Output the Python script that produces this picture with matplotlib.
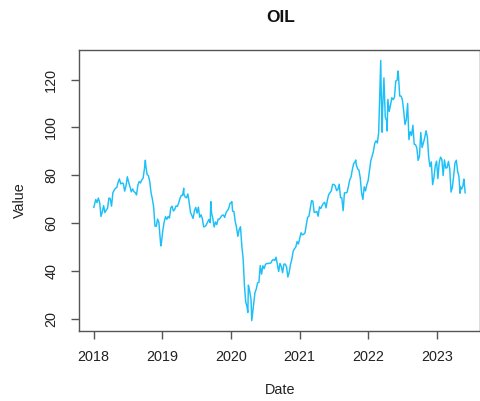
import numpy as np
import pandas as pd
import matplotlib
matplotlib.use("Agg")
import matplotlib.pyplot as plt
import matplotlib.dates as mdates

# weekly (Friday) oil price readings, one list per year
oil_2018 = [67.6, 69.9, 68.6, 70.5, 68.6, 62.8, 64.8, 67.3, 64.4, 65.5, 66.2, 70.5, 70.3,
            67.1, 72.6, 73.8, 74.6, 74.9, 77.1, 78.5, 76.4, 76.8, 76.5, 73.4, 75.6, 79.4,
            77.1, 75.3, 73.1, 74.3, 73.2, 72.8, 71.8, 75.8, 77.4, 76.8, 78.1, 78.8, 82.7,
            84.2, 80.4, 79.8, 77.6, 72.8, 70.2, 66.8, 58.8, 58.7, 61.7, 60.3, 53.8, 52.2]
oil_2019 = [57.1, 60.5, 62.7, 61.6, 62.8, 62.1, 66.3, 67.1, 65.1, 65.7, 67.2, 67.0, 68.4,
            70.3, 71.6, 71.6, 72.2, 70.9, 70.6, 72.2, 68.7, 64.5, 63.3, 62.0, 65.2, 66.6,
            64.2, 66.7, 62.5, 63.5, 61.9, 58.5, 58.6, 59.3, 60.4, 61.5, 60.2, 64.3, 61.9,
            58.4, 60.5, 59.4, 61.7, 61.7, 62.5, 63.3, 63.4, 62.4, 64.4, 65.2, 66.1, 68.2]
oil_2020 = [68.6, 65.0, 64.9, 60.7, 58.2, 54.5, 57.3, 58.5, 50.5, 45.3, 33.9, 27.0, 25.0,
            34.1, 31.5, 28.1, 21.4, 26.4, 31.0, 32.5, 35.1, 35.3, 42.3, 38.7, 42.2, 41.0,
            42.8, 43.2, 43.1, 43.3, 43.3, 44.4, 44.8, 44.4, 45.8, 42.7, 39.8, 43.2, 41.9,
            39.3, 42.9, 42.9, 41.8, 37.5, 39.5, 42.8, 44.9, 48.2, 49.3, 50.0, 52.3, 51.3]
oil_2021 = [56.0, 55.1, 55.4, 55.9, 59.3, 62.4, 62.9, 66.1, 69.4, 69.2, 64.5, 64.6,
            64.9, 62.9, 66.8, 66.1, 67.3, 68.3, 68.7, 66.4, 69.6, 71.9, 72.7, 73.5, 76.2,
            76.2, 75.6, 73.6, 74.1, 76.3, 70.7, 70.6, 65.2, 72.7, 72.6, 72.9, 75.3, 78.1,
            79.3, 82.4, 84.9, 85.5, 84.4, 82.7, 82.2, 78.9, 72.7, 69.9, 75.2, 73.5, 76.1, 77.8]
oil_2022 = [81.8, 86.1, 87.9, 90.0, 93.3, 94.4, 93.5, 97.9, 118.1, 112.7, 108.0, 120.7,
            104.4, 102.8, 111.7, 106.7, 109.3, 112.4, 111.6, 112.6, 119.4, 119.7, 122.0, 113.1, 113.1,
            111.6, 107.0, 101.2, 103.2, 110.0, 94.9, 98.2, 96.7, 100.9, 93.0, 92.8, 91.4, 86.2, 88.0,
            97.9, 91.6, 93.5, 95.8, 98.6, 96.0, 87.6, 83.6, 85.6, 76.1, 79.0, 84.0, 85.9]
oil_2023 = [78.6, 85.3, 87.6, 86.7, 79.9, 86.4, 83.0, 83.2, 85.8, 82.8, 73.0, 75.0, 79.8,
            85.1, 86.3, 81.7, 79.5, 75.3, 74.2, 75.6, 76.9]

# single days where the daily series spikes
spike_dates = ["2018-01-02", "2018-10-03", "2018-12-24", "2019-04-25", "2019-09-16",
               "2020-01-06", "2020-03-31", "2020-04-21", "2021-10-26", "2022-03-08",
               "2022-03-16", "2022-04-11", "2022-06-08", "2023-05-04", "2023-05-24",
               "2023-05-31"]
spike_vals = [66.6, 86.3, 50.5, 74.6, 69.0, 69.0, 22.7, 19.3, 86.4, 128.0,
              98.0, 98.5, 123.6, 72.5, 78.4, 72.7]

parts = []
for year, vals in zip(range(2018, 2024), [oil_2018, oil_2019, oil_2020, oil_2021, oil_2022, oil_2023]):
    idx = pd.date_range(start=f"{year}-01-02", periods=len(vals), freq="W-FRI")
    parts.append(pd.Series(vals, index=idx))
parts.append(pd.Series(spike_vals, index=pd.to_datetime(spike_dates)))
oil = pd.concat(parts).sort_index()

plt.rcParams["font.family"] = ["Liberation Sans", "DejaVu Sans"]

fig = plt.figure(figsize=(4.81, 4.01), dpi=100)
ax = fig.add_axes([79 / 481, 1 - 331 / 401, 401 / 481, 281 / 401])

ax.plot(oil.index, oil.values, color="#1CC0F8", lw=1.05)

# R-style 4% padding
x0, x1 = mdates.date2num(oil.index.min()), mdates.date2num(oil.index.max())
dx = (x1 - x0) * 0.04
ax.set_xlim(x0 - dx, x1 + dx)
y0, y1 = oil.min(), oil.max()
dy = (y1 - y0) * 0.04
ax.set_ylim(y0 - dy, y1 + dy)

ax.set_xticks([mdates.date2num(pd.Timestamp(f"{y}-01-01")) for y in range(2018, 2024)])
ax.set_xticklabels([str(y) for y in range(2018, 2024)])
ax.set_yticks([20, 40, 60, 80, 100, 120])
ax.set_yticklabels(["20", "40", "60", "80", "100", "120"], rotation=90, va="center")

for s in ax.spines.values():
    s.set_color("#555555")
    s.set_linewidth(1.0)
ax.tick_params(axis="both", direction="out", length=6, width=1.0, color="#555555",
               labelsize=10.4, labelcolor="#222222")
ax.tick_params(axis="x", pad=8)
ax.tick_params(axis="y", pad=9)

fig.text(281 / 481, 1 - 17 / 401, "OIL", ha="center", va="center",
         fontsize=12.5, fontweight="bold", color="#111111")
fig.text(280 / 481, 1 - 390 / 401, "Date", ha="center", va="center",
         fontsize=10.4, color="#222222")
fig.text(20 / 481, 1 - 200 / 401, "Value", ha="center", va="center",
         rotation=90, fontsize=10.4, color="#222222")

fig.savefig("out.png", dpi=100)
